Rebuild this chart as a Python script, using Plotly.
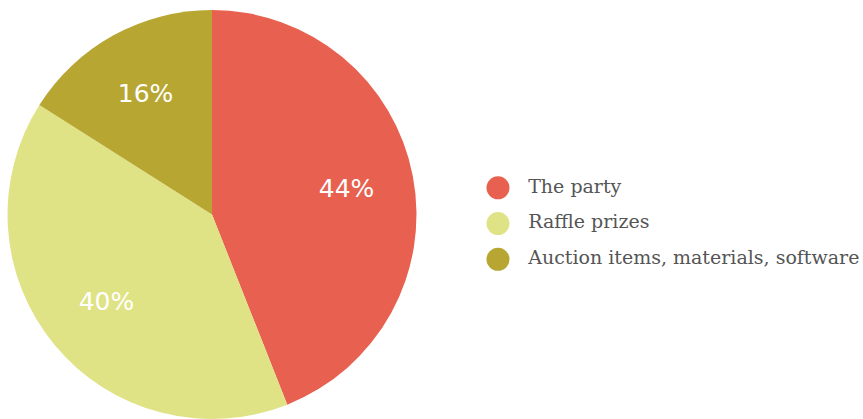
import plotly.graph_objects as go

labels = ["The party", "Raffle prizes", "Auction items, materials, software"]
values = [44, 40, 16]
colors = ["#E8604F", "#E0E385", "#B8A632"]

pie_domain = dict(x=[0.0081, 0.4832], y=[0.0, 0.976])

fig = go.Figure()

# Filled pie (no text)
fig.add_trace(go.Pie(
    labels=labels,
    values=values,
    marker=dict(colors=colors, line=dict(width=0)),
    sort=False,
    direction="clockwise",
    rotation=0,
    textinfo="none",
    showlegend=False,
    hoverinfo="label+percent",
    domain=pie_domain,
))

# Transparent ring overlay that only carries the percentage labels,
# so they sit at about two-thirds of the radius like the reference
fig.add_trace(go.Pie(
    labels=labels,
    values=values,
    marker=dict(colors=["rgba(0,0,0,0)"] * len(values), line=dict(width=0)),
    sort=False,
    direction="clockwise",
    rotation=0,
    hole=0.34,
    texttemplate="%{percent:.0%}",
    textposition="inside",
    insidetextorientation="horizontal",
    textfont=dict(family="DejaVu Sans", size=25, color="white"),
    showlegend=False,
    hoverinfo="skip",
    domain=pie_domain,
))

# Custom legend with round markers
fig.add_trace(go.Scatter(
    x=[0] * len(labels),
    y=list(range(len(labels))),
    mode="markers",
    marker=dict(color=colors, size=23),
    cliponaxis=False,
    showlegend=False,
    hoverinfo="skip",
))
fig.add_trace(go.Scatter(
    x=[0.70] * len(labels),
    y=list(range(len(labels))),
    mode="text",
    text=labels,
    textposition="middle right",
    textfont=dict(family="DejaVu Serif", size=19, color="#555555"),
    cliponaxis=False,
    showlegend=False,
    hoverinfo="skip",
))

fig.update_layout(
    width=863, height=419,
    margin=dict(l=0, r=0, t=0, b=0),
    paper_bgcolor="white",
    plot_bgcolor="rgba(0,0,0,0)",
    xaxis=dict(domain=[0.5, 1.0], range=[-1.541, 8.459], visible=False, fixedrange=True),
    yaxis=dict(domain=[0, 1], range=[6.468, -5.252], visible=False, fixedrange=True),
)

fig.write_html(
    "out.html",
    config={"displayModeBar": False},
    post_script="document.body.style.margin='0';",
)
